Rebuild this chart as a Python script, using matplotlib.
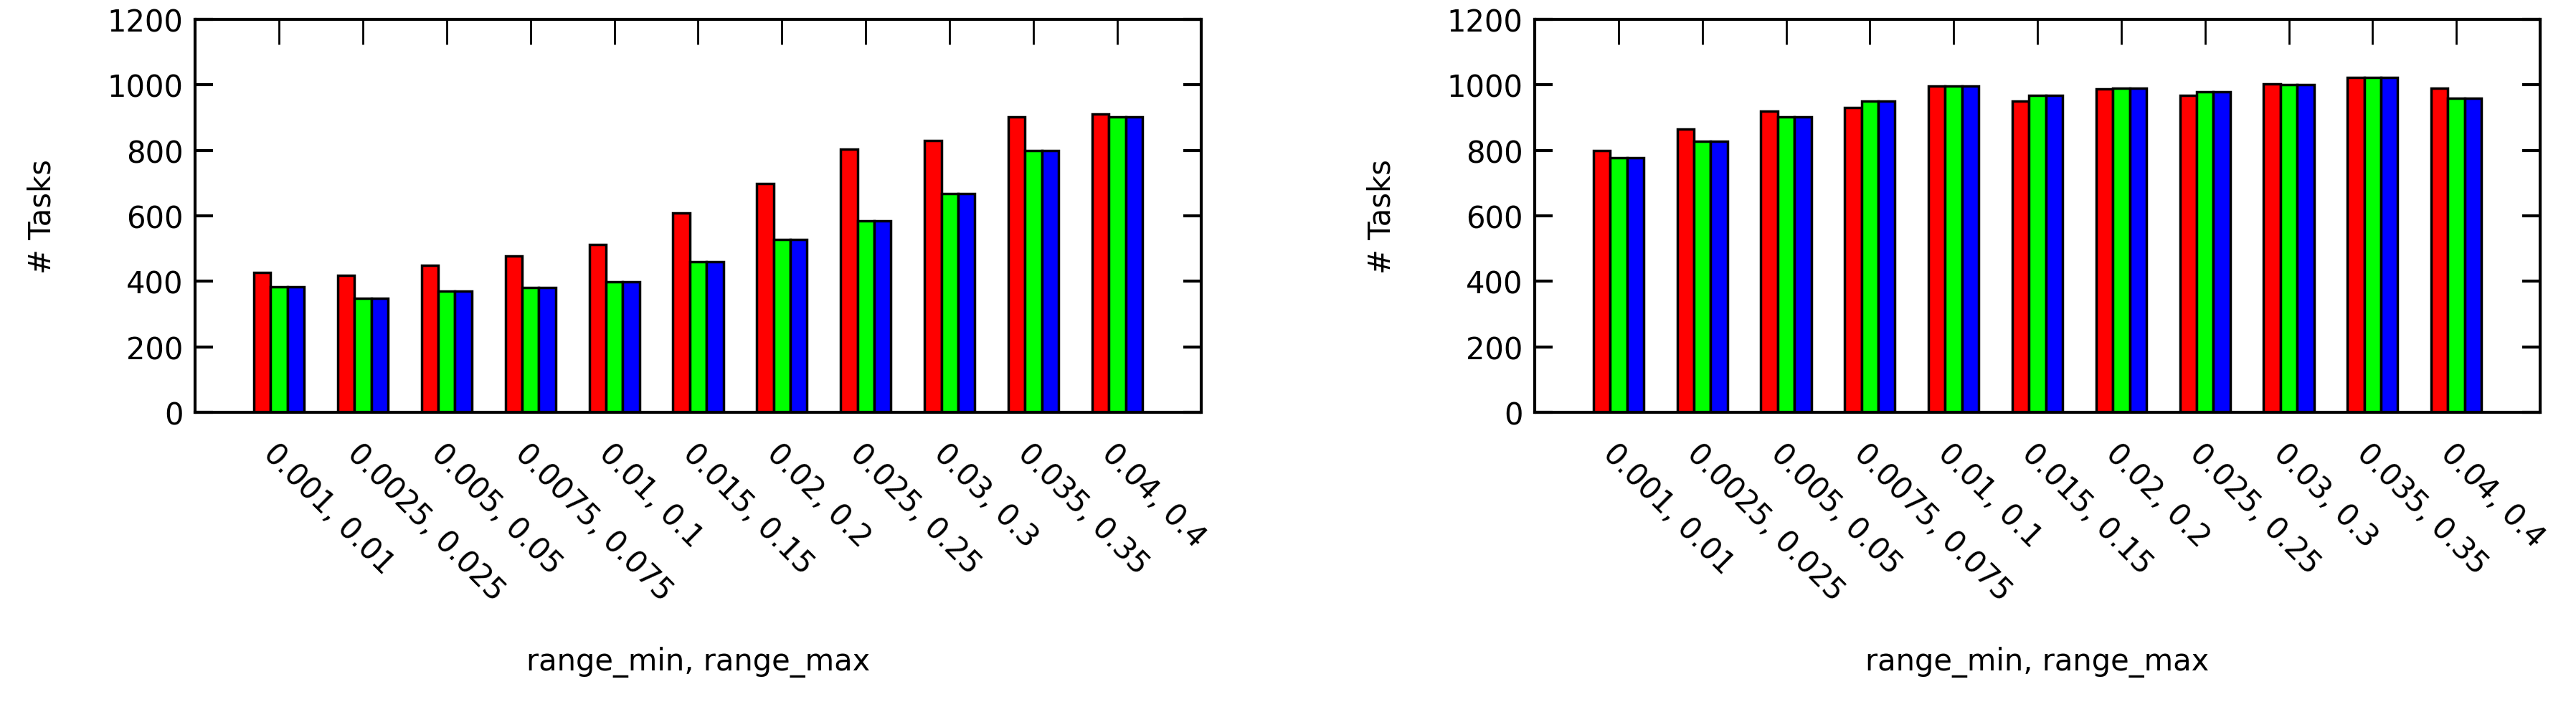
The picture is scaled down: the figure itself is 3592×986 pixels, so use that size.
import numpy as np
import matplotlib
matplotlib.use("Agg")
import matplotlib.pyplot as plt

# x軸ラベル
labels = ["0.001, 0.01", "0.0025, 0.025", "0.005, 0.05", "0.0075, 0.075", "0.01, 0.1",
          "0.015, 0.15", "0.02, 0.2", "0.025, 0.25", "0.03, 0.3", "0.035, 0.35", "0.04, 0.4"]

# 左パネル
left_red = [428, 418, 448, 478, 512, 608, 698, 803, 830, 903, 912]
left_green = [383, 348, 370, 382, 399, 460, 528, 585, 667, 800, 903]
left_blue = [383, 348, 370, 382, 399, 460, 528, 585, 667, 800, 903]

# 右パネル
right_red = [800, 866, 920, 930, 997, 950, 987, 968, 1002, 1023, 990]
right_green = [778, 828, 902, 950, 997, 968, 990, 979, 1000, 1023, 960]
right_blue = [778, 828, 902, 950, 997, 968, 990, 979, 1000, 1023, 960]

plt.rcParams['font.family'] = ['DejaVu Sans']

fig = plt.figure(figsize=(35.92, 9.87), dpi=100)
axes = [fig.add_axes([272/3592, 1-576/987, 1403/3592, 548/987]),
        fig.add_axes([2140/3592, 1-576/987, 1402/3592, 548/987])]

x = np.arange(len(labels))
w = 0.2
for ax, (r, g, b) in zip(axes, [(left_red, left_green, left_blue),
                                (right_red, right_green, right_blue)]):
    ax.bar(x - w, r, w, color='#ff0000', edgecolor='black', linewidth=2.5)
    ax.bar(x, g, w, color='#00ff00', edgecolor='black', linewidth=2.5)
    ax.bar(x + w, b, w, color='#0000ff', edgecolor='black', linewidth=2.5)
    ax.set_xlim(-1, 11)
    ax.set_ylim(0, 1200)
    ax.set_yticks(range(0, 1201, 200))
    ax.set_xticks(x)
    ax.set_xticklabels(labels, rotation=-45, ha='left', rotation_mode='anchor', fontsize=30)
    ax.tick_params(axis='y', direction='in', right=True, length=18, width=3, labelsize=30, pad=12)
    ax.tick_params(axis='x', direction='in', top=True, bottom=False, length=25, width=2, pad=25)
    for s in ax.spines.values():
        s.set_linewidth(3)
    ax.set_ylabel('# Tasks', fontsize=30, labelpad=50)
    ax.set_xlabel('range_min, range_max', fontsize=30, labelpad=40)

fig.savefig('out.png', dpi=100)
